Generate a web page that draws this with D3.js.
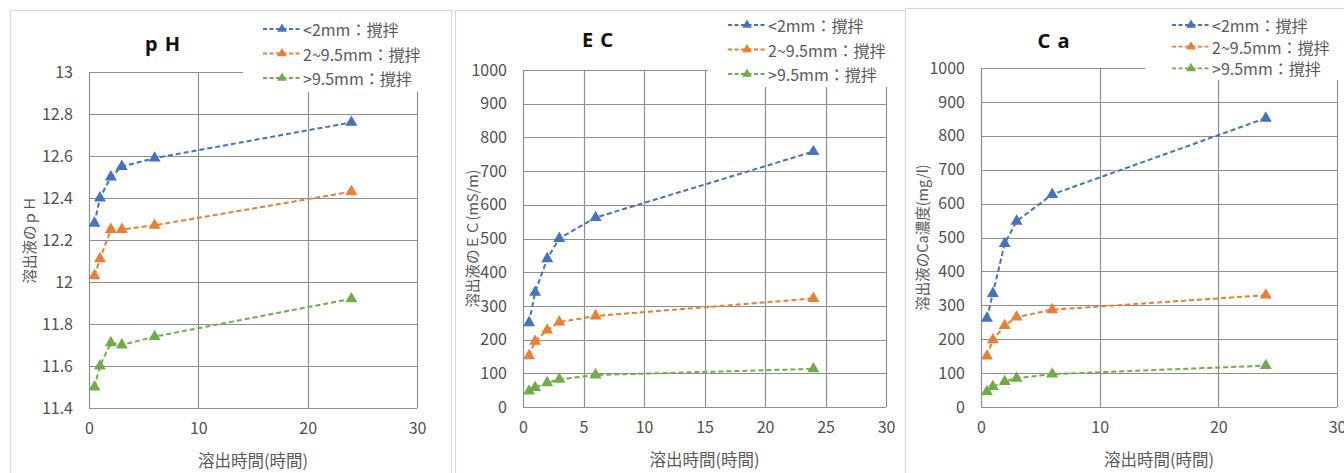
<!DOCTYPE html>
<html>
<head>
<meta charset="utf-8">
<script src="https://cdn.jsdelivr.net/npm/d3@7"></script>
<style>
  html, body { margin: 0; padding: 0; background: #fff; }
  svg { display: block; font-family: "Noto Sans CJK JP", "Noto Sans", sans-serif; }
</style>
</head>
<body>
<svg id="chart" width="1344" height="473"></svg>
<script>
// Elution time (hours)
const hours = [0.5, 1, 2, 3, 6, 24];
const seriesNames = ["<2mm：撹拌", "2~9.5mm：撹拌", ">9.5mm：撹拌"];
const seriesColors = ["#4472C4", "#ED7D31", "#70AD47"];

// pH of eluate
const phFine   = [12.28, 12.40, 12.50, 12.55, 12.59, 12.76];
const phMid    = [12.03, 12.11, 12.25, 12.25, 12.27, 12.43];
const phCoarse = [11.50, 11.60, 11.71, 11.70, 11.74, 11.92];

// EC of eluate (mS/m)
const ecFine   = [250, 340, 440, 500, 562, 758];
const ecMid    = [152, 195, 228, 252, 270, 322];
const ecCoarse = [47, 58, 72, 82, 95, 113];

// Ca concentration of eluate (mg/l)
const caFine   = [262, 335, 482, 548, 627, 852];
const caMid    = [150, 198, 240, 265, 287, 330];
const caCoarse = [45, 60, 75, 85, 97, 122];

// Axis ticks
const phTicks = [11.4, 11.6, 11.8, 12, 12.2, 12.4, 12.6, 12.8, 13];
const ecTicks = [0, 100, 200, 300, 400, 500, 600, 700, 800, 900, 1000];
const caTicks = [0, 100, 200, 300, 400, 500, 600, 700, 800, 900, 1000];
const hourTicksWide = [0, 10, 20, 30];
const hourTicksFine = [0, 5, 10, 15, 20, 25, 30];

const xTitle = "溶出時間(時間)";

const panels = [
  {
    title: "p H", yTitle: "溶出液のｐＨ",
    series: [phFine, phMid, phCoarse], yTicks: phTicks, xTicks: hourTicksWide,
    frame: { left: 10, right: 451, top: 10 },
    plot: { x0: 89, x1: 417, y0: 72, y1: 408 },
    titlePos: [163, 43], yTitleX: 28,
    legend: { x: 263, y: 29, dy: 24.5, boxX: 243, boxBottom: 92 }
  },
  {
    title: "E C", yTitle: "溶出液のＥＣ(mS/m)",
    series: [ecFine, ecMid, ecCoarse], yTicks: ecTicks, xTicks: hourTicksFine,
    frame: { left: 455, right: 905, top: 10 },
    plot: { x0: 523, x1: 886, y0: 70, y1: 407 },
    titlePos: [598, 39], yTitleX: 471,
    legend: { x: 728, y: 25, dy: 24.5, boxX: 708, boxBottom: 87 }
  },
  {
    title: "C a", yTitle: "溶出液のCa濃度(mg/l)",
    series: [caFine, caMid, caCoarse], yTicks: caTicks, xTicks: hourTicksWide,
    frame: { left: 905, right: 1350, top: 8 },
    plot: { x0: 981, x1: 1337, y0: 68, y1: 407 },
    titlePos: [1054, 40], yTitleX: 921,
    legend: { x: 1172, y: 25, dy: 21.7, boxX: 1145, boxBottom: 80 }
  }
];

const svg = d3.select("#chart");
const gridColor = "#8f8f8f";
const textColor = "#595959";

panels.forEach(p => {
  const g = svg.append("g");

  // panel frame
  g.append("rect")
    .attr("x", p.frame.left + 0.5).attr("y", p.frame.top + 0.5)
    .attr("width", p.frame.right - p.frame.left).attr("height", 500)
    .attr("fill", "#fff").attr("stroke", "#d9d9d9").attr("stroke-width", 1.2);

  const x = d3.scaleLinear().domain([0, 30]).range([p.plot.x0, p.plot.x1]);
  const yDom = d3.extent(p.yTicks);
  const y = d3.scaleLinear().domain(yDom).range([p.plot.y1, p.plot.y0]);

  // horizontal gridlines
  g.append("g").selectAll("line").data(p.yTicks).join("line")
    .attr("x1", p.plot.x0).attr("x2", p.plot.x1)
    .attr("y1", d => Math.round(y(d)) + 0.5).attr("y2", d => Math.round(y(d)) + 0.5)
    .attr("stroke", gridColor).attr("stroke-width", 1.2);

  // vertical gridlines
  g.append("g").selectAll("line").data(p.xTicks).join("line")
    .attr("x1", d => Math.round(x(d)) + 0.5).attr("x2", d => Math.round(x(d)) + 0.5)
    .attr("y1", p.plot.y0).attr("y2", p.plot.y1)
    .attr("stroke", gridColor).attr("stroke-width", 1.2);

  // y tick labels
  const yAxis = d3.axisLeft(y).tickValues(p.yTicks).tickSize(0).tickPadding(0)
    .tickFormat(d => d3.format("~g")(d));
  const ya = g.append("g").attr("transform", `translate(${p.plot.x0 - 16},0)`).call(yAxis);
  ya.select(".domain").remove();
  ya.selectAll("text").attr("fill", "#505050").attr("font-size", 16)
    .attr("font-family", "'Noto Sans CJK JP', sans-serif");

  // x tick labels
  const xAxis = d3.axisBottom(x).tickValues(p.xTicks).tickSize(0).tickPadding(0);
  const xa = g.append("g").attr("transform", `translate(0,${p.plot.y1 + 15})`).call(xAxis);
  xa.select(".domain").remove();
  xa.selectAll("text").attr("fill", "#505050").attr("font-size", 16)
    .attr("font-family", "'Noto Sans CJK JP', sans-serif");

  // legend backdrop hides the grid behind it
  g.append("rect")
    .attr("x", p.legend.boxX).attr("y", p.frame.top + 2)
    .attr("width", p.frame.right - p.legend.boxX - 4)
    .attr("height", p.legend.boxBottom - p.frame.top - 2)
    .attr("fill", "#fff");

  // series
  const line = d3.line().x((d, i) => x(hours[i])).y(d => y(d));
  p.series.forEach((vals, si) => {
    g.append("path").datum(vals)
      .attr("d", line).attr("fill", "none")
      .attr("stroke", seriesColors[si]).attr("stroke-width", 2)
      .attr("stroke-dasharray", "5,3");
    g.append("g").selectAll("path").data(vals).join("path")
      .attr("d", d3.symbol().type(d3.symbolTriangle).size(62))
      .attr("transform", (d, i) => `translate(${x(hours[i])},${y(d)})`)
      .attr("fill", seriesColors[si]);
  });

  // title
  g.append("text").attr("x", p.titlePos[0]).attr("y", p.titlePos[1])
    .attr("text-anchor", "middle").attr("dominant-baseline", "central")
    .attr("font-size", 20).attr("font-weight", "bold").attr("fill", "#111")
    .attr("letter-spacing", 1)
    .attr("font-family", "'Noto Sans', 'Noto Sans CJK JP', sans-serif")
    .text(p.title);

  // y axis title
  const yMid = (p.plot.y0 + p.plot.y1) / 2;
  g.append("text")
    .attr("transform", `translate(${p.yTitleX},${yMid}) rotate(-90)`)
    .attr("text-anchor", "middle").attr("dominant-baseline", "central")
    .attr("font-size", 14.5).attr("fill", textColor)
    .text(p.yTitle);

  // x axis title
  g.append("text")
    .attr("x", (p.plot.x0 + p.plot.x1) / 2).attr("y", p.plot.y1 + 52)
    .attr("text-anchor", "middle").attr("dominant-baseline", "central")
    .attr("font-size", 16.5).attr("fill", textColor)
    .text(xTitle);

  // legend
  seriesNames.forEach((name, si) => {
    const ly = p.legend.y + si * p.legend.dy;
    const lg = g.append("g");
    lg.append("line")
      .attr("x1", p.legend.x).attr("x2", p.legend.x + 38)
      .attr("y1", ly).attr("y2", ly)
      .attr("stroke", seriesColors[si]).attr("stroke-width", 1.8)
      .attr("stroke-dasharray", "4,2.5");
    lg.append("path")
      .attr("d", d3.symbol().type(d3.symbolTriangle).size(40))
      .attr("transform", `translate(${p.legend.x + 19},${ly})`)
      .attr("fill", seriesColors[si]);
    lg.append("text")
      .attr("x", p.legend.x + 40).attr("y", ly)
      .attr("dominant-baseline", "central")
      .attr("font-size", 16).attr("fill", textColor)
      .text(name);
  });
});
</script>
</body>
</html>
